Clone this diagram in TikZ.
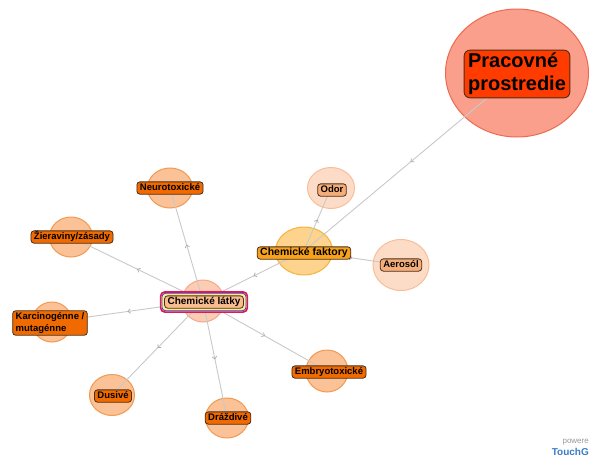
\documentclass[tikz,border=0pt]{standalone}
\usepackage{fontspec}
\setmainfont{Liberation Sans}
\usetikzlibrary{arrows.meta,decorations.markings,calc,shapes.geometric}

% palette
\definecolor{edgegray}{HTML}{C9C9C9}
\definecolor{leafFill}{HTML}{FBC197}
\definecolor{leafRing}{HTML}{F29A50}
\definecolor{leafBox}{HTML}{F06A00}
\definecolor{paleFill}{HTML}{FDDCC7}
\definecolor{paleRing}{HTML}{F8BE98}
\definecolor{paleBox}{HTML}{F5AE7A}
\definecolor{midFill}{HTML}{FDD38E}
\definecolor{midRing}{HTML}{F4B43C}
\definecolor{midBox}{HTML}{F8A21C}
\definecolor{rootFill}{HTML}{FB9F8D}
\definecolor{rootRing}{HTML}{EC6B4F}
\definecolor{rootBox}{HTML}{FF3B00}
\definecolor{hubFill}{HTML}{FCCDB3}
\definecolor{hubRing}{HTML}{F4A98C}
\definecolor{hubBox}{HTML}{F8BC8E}
\definecolor{boxEdge}{HTML}{4A2E18}
\definecolor{selRed}{HTML}{E0185A}
\definecolor{selBlue}{HTML}{3A3AD8}
\definecolor{selYellow}{HTML}{F8EE90}
\definecolor{brandBlue}{HTML}{3A7CC8}

\tikzset{
  ring/.style={ellipse, inner sep=0pt, line width=1pt},
  leafring/.style={ring, fill=leafFill, draw=leafRing},
  palering/.style={ring, fill=paleFill, draw=paleRing},
  link/.style={draw=edgegray, line width=0.9pt, postaction={decorate},
    decoration={markings, mark=at position 0.5 with
      {\arrow[edgegray!85!black]{Straight Barb[length=2.5pt,width=4.5pt,line width=0.7pt]}}}},
  tag/.style={draw=boxEdge, line width=0.8pt, rounded corners=3pt,
    inner xsep=3pt, inner ysep=1.5pt, text height=7.3pt, text depth=2pt,
    font=\fontsize{9.5}{11}\selectfont\bfseries},
  leaftag/.style={tag, fill=leafBox},
  paletag/.style={tag, fill=paleBox},
}

\begin{document}
\begin{tikzpicture}[x=1pt,y=-1pt]
\useasboundingbox (0,0) rectangle (590,458);
\fill[white] (0,0) rectangle (590,458);

% halo ellipses
\node[ring, fill=rootFill, draw=rootRing, minimum width=143, minimum height=128] (cPrac) at (517,73) {};
\node[ring, fill=midFill, draw=midRing, minimum width=57, minimum height=48] (cFakt) at (304,251) {};
\node[palering, minimum width=47, minimum height=41] (cOdor) at (331,188) {};
\node[palering, minimum width=56, minimum height=51] (cAero) at (401,265) {};
\node[ring, fill=hubFill, draw=hubRing, minimum width=42, minimum height=42] (cLat) at (203,301) {};
\node[leafring, minimum width=45, minimum height=40] (cNeuro) at (170,188) {};
\node[leafring, minimum width=43, minimum height=40] (cZier) at (71,237) {};
\node[leafring, minimum width=40, minimum height=40] (cKarc) at (52,322) {};
\node[leafring, minimum width=45, minimum height=41] (cDus) at (112,395) {};
\node[leafring, minimum width=43, minimum height=40] (cDraz) at (227,418) {};
\node[leafring, minimum width=42, minimum height=42] (cEmbr) at (327,371) {};

% connectors, centre to centre
\draw[link] (cPrac.center) -- (cFakt.center);
\draw[link] (cFakt.center) -- (cOdor.center);
\draw[link] (cFakt.center) -- (cAero.center);
\draw[link] (cFakt.center) -- (cLat.center);
\draw[link] (cLat.center) -- (cNeuro.center);
\draw[link] (cLat.center) -- (cZier.center);
\draw[link] (cLat.center) -- (cKarc.center);
\draw[link] (cLat.center) -- (cDus.center);
\draw[link] (cLat.center) -- (cDraz.center);
\draw[link] (cLat.center) -- (cEmbr.center);

% labels
\node[draw=boxEdge, line width=0.9pt, fill=rootBox, rounded corners=6pt,
      inner xsep=4pt, inner ysep=3pt, align=left,
      font=\fontsize{20}{23}\selectfont\bfseries] (bPrac) at (517,74)
      {Pracovné\\prostredie};
\node[tag, fill=midBox, font=\fontsize{10.5}{12}\selectfont\bfseries] (bFakt) at (304,253) {Chemické faktory};
\node[paletag] (bOdor) at (332,190) {Odor};
\node[paletag] (bAero) at (401,265) {Aerosól};

% selected label with nested frames
\node[tag, fill=hubBox, font=\fontsize{10}{12}\selectfont\bfseries] (bLat) at (204,302) {Chemické látky};
\draw[selRed, line width=1.6pt, fill=selYellow, rounded corners=4pt]
  ($(bLat.south west)+(-3.5,3.5)$) rectangle ($(bLat.north east)+(3.5,-3.5)$);
\draw[selBlue, line width=0.8pt, rounded corners=3.5pt]
  ($(bLat.south west)+(-2.2,2.2)$) rectangle ($(bLat.north east)+(2.2,-2.2)$);
\node[tag, fill=hubBox, font=\fontsize{10}{12}\selectfont\bfseries] at (bLat) {Chemické látky};

\node[leaftag] (bNeuro) at (170,188) {Neurotoxické};
\node[leaftag] (bZier) at (72,237) {Žieraviny/zásady};
\node[leaftag, align=left, text height=, text depth=, inner ysep=2pt,
      font=\fontsize{9.5}{11.5}\selectfont\bfseries] (bKarc) at (50,323)
      {Karcinogénne /\\mutagénne};
\node[leaftag] (bDus) at (113,396) {Dusivé};
\node[leaftag] (bDraz) at (228,418) {Dráždivé};
\node[leaftag] (bEmbr) at (329,372) {Embryotoxické};

% credit line in the lower right corner
\node[anchor=east, inner sep=0pt, text=gray!80, font=\fontsize{8}{9}\selectfont] (credit1) at (589,442) {powere};
\node[anchor=east, inner sep=0pt, text=brandBlue, font=\fontsize{10}{11}\selectfont\bfseries] (credit2) at (589,452) {TouchG};
\end{tikzpicture}
\end{document}
